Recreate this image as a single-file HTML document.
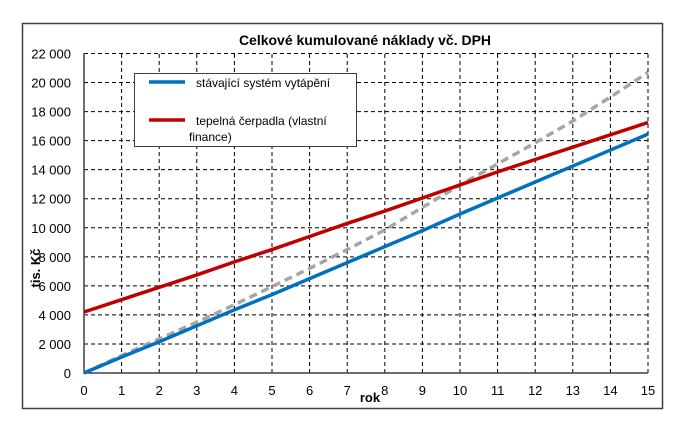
<!DOCTYPE html>
<html><head><meta charset="utf-8"><style>
body{margin:0;background:#fff;}
svg text{font-family:"Liberation Sans",sans-serif;}
</style></head><body>
<svg width="690" height="432" xmlns="http://www.w3.org/2000/svg">
<rect x="22.5" y="23.5" width="640" height="385" fill="#fff" stroke="#404040" stroke-width="1.5"/>
<text x="365" y="45" text-anchor="middle" font-size="14" font-weight="bold">Celkové kumulované náklady vč. DPH</text>
<g id="grid"></g>
<g id="ticks"></g>
<g id="series"></g>
<text x="370" y="402" text-anchor="middle" font-size="13" font-weight="bold">rok</text>
<text transform="translate(40,268) rotate(-90)" text-anchor="middle" font-size="13" font-weight="bold">tis. Kč</text>
<g>
<rect x="134.5" y="73.5" width="222" height="73" fill="#fff" stroke="#404040" stroke-width="1"/>
<line x1="149" y1="82" x2="185" y2="82" stroke="#0070c0" stroke-width="3.5"/>
<text x="196" y="87" font-size="12">stávající systém vytápění</text>
<line x1="149" y1="120" x2="185" y2="120" stroke="#c00000" stroke-width="3.5"/>
<text x="196" y="125" font-size="12">tepelná čerpadla (vlastní</text>
<text x="189" y="141" font-size="12">finance)</text>
</g>
</svg>
<script>
const years=[0,1,2,3,4,5,6,7,8,9,10,11,12,13,14,15];
const stavajici=[0,1100,2150,3250,4350,5400,6500,7600,8700,9800,10950,12050,13150,14250,15350,16450];
const cerpadla=[4200,5050,5900,6750,7650,8500,9400,10300,11150,12050,12950,13850,14700,15550,16400,17250];
const srovnani=[0,1200,2350,3500,4700,5950,7200,8500,9850,11400,12950,14400,15850,17350,19000,20700];
const yTicks=[0,2000,4000,6000,8000,10000,12000,14000,16000,18000,20000,22000];
const yTickLabels=["0","2 000","4 000","6 000","8 000","10 000","12 000","14 000","16 000","18 000","20 000","22 000"];
const NS="http://www.w3.org/2000/svg";
const X0=84,X1=648,Y0=373,Y1=53.5;
const sx=v=>X0+(v-0)/15*(X1-X0);
const sy=v=>Y0-(v/22000)*(Y0-Y1);
function mk(t,a,p){const e=document.createElementNS(NS,t);for(const k in a)e.setAttribute(k,a[k]);p.appendChild(e);return e;}
const grid=document.getElementById('grid'),ticks=document.getElementById('ticks'),ser=document.getElementById('series');
yTicks.forEach((v,i)=>{
 if(v>0){const l=mk('line',{x1:X0,x2:X1,y1:sy(v),y2:sy(v),stroke:'#000','stroke-width':1,'stroke-dasharray':'4 3'},grid);
 
 }
 const t=mk('text',{x:71,y:sy(v)+5,'text-anchor':'end','font-size':13},ticks);t.textContent=yTickLabels[i];
 
 
});
years.forEach(v=>{
 if(v>0){const l=mk('line',{x1:sx(v),x2:sx(v),y1:Y0,y2:Y1,stroke:'#000','stroke-width':1,'stroke-dasharray':'4 3'},grid);
 
 }
 const t=mk('text',{x:sx(v),y:395,'text-anchor':'middle','font-size':13},ticks);t.textContent=String(v);
 
 
});
const ax=mk('path',{d:`M${X0},${Y1}V${Y0}H${X1}`,fill:'none',stroke:'#404040','stroke-width':1.5},grid);


function line(vals,col,dash,name){
 const d=vals.map((v,i)=>(i?'L':'M')+sx(years[i])+','+sy(v)).join('');
 const p=mk('path',{d:d,fill:'none',stroke:col,'stroke-width':3.5},ser);
 if(dash)p.setAttribute('stroke-dasharray',dash);
 
 
}
line(srovnani,'#a6a6a6','8 5','series-gray-dashed');
line(stavajici,'#0070c0',null,'series-stavajici');
line(cerpadla,'#c00000',null,'series-cerpadla');
</script>
</body></html>
